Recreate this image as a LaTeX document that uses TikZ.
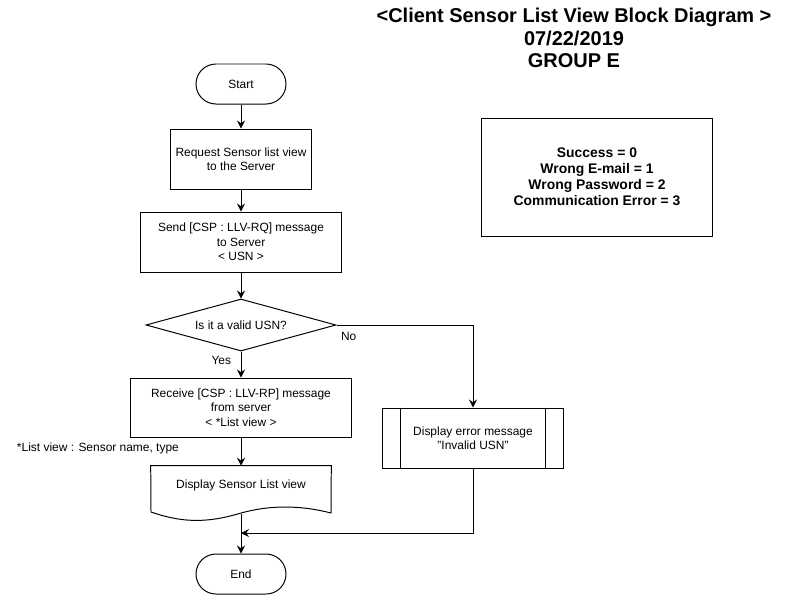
\documentclass[tikz,border=0pt]{standalone}
\usepackage{fontspec}
\setmainfont{Liberation Sans}
\usetikzlibrary{arrows.meta,shapes.geometric}

\tikzset{
  line/.style={line width=0.7pt},
  txt/.style={font=\fontsize{8.5}{10.3}\selectfont, align=center},
  box/.style={draw, line, txt, minimum height=1.5cm, inner sep=2pt},
  term/.style={draw, line, txt, rounded corners=0.5cm, minimum width=2.25cm, minimum height=1cm},
  decision/.style={draw, line, txt, diamond, aspect=3.65, minimum width=4.75cm, minimum height=1.3cm, inner sep=0pt},
  arr/.style={line, -{Stealth[length=2mm,width=2mm,inset=0.7mm]}}
}

\begin{document}
\begin{tikzpicture}[x=0.025cm,y=-0.025cm]
\useasboundingbox (0,0) rectangle (793,595);

% heading and legend
\node[font=\fontsize{14.2}{16}\selectfont\bfseries, align=center] (title) at (574,38)
  {<Client Sensor List View Block Diagram >\\07/22/2019\\GROUP E};
\node[draw, line, minimum width=5.75cm, minimum height=2.95cm, align=center,
  font=\fontsize{9.9}{11.4}\selectfont\bfseries] (codes) at (597,177)
  {Success = 0\\Wrong E-mail = 1\\Wrong Password = 2\\Communication Error = 3};

% main flow
\node[term] (start) at (241,84) {Start};
\node[box, minimum width=3.5cm] (req) at (241,159) {Request Sensor list view\\to the Server};
\node[box, minimum width=5cm] (send) at (241,242) {Send [CSP : LLV-RQ] message\\to Server\\< USN >};
\node[decision] (valid) at (241,325) {Is it a valid USN?};
\node[box, minimum width=5.5cm, minimum height=1.475cm] (recv) at (241,407.5) {Receive [CSP : LLV-RP] message\\from server\\< *List view >};
\node[txt, anchor=west] (note) at (12,448) {*List view : Sensor name, type};
\node[txt, minimum width=4.5cm, minimum height=0.95cm] (disp) at (241,485) {Display Sensor List view};
\draw[line] (disp.north west) -- (disp.north east) -- (331,513)
  .. controls (300,505) and (270,505) .. (241,513)
  .. controls (205,524) and (180,522) .. (151,512) -- cycle;
\coordinate (dispb) at (241,514);
\node[term] (end) at (241,574) {End};

% error branch
\node[box, minimum width=4.5cm] (err) at (473,438) {Display error message\\{\char34}Invalid USN{\char34}};
\draw[line] ([xshift=0.45cm]err.north west) -- ([xshift=0.45cm]err.south west);
\draw[line] ([xshift=-0.45cm]err.north east) -- ([xshift=-0.45cm]err.south east);
\coordinate (join) at (241,533);

\draw[arr] (start) -- (req);
\draw[arr] (req) -- (send);
\draw[arr] (send) -- (valid);
\draw[arr] (valid) -- node[txt, left, pos=0.35, xshift=-0.12cm] {Yes} (recv);
\draw[arr] (valid.east) -- node[txt, anchor=north west, pos=0, inner sep=0pt, xshift=0.1cm, yshift=-0.17cm] {No} (473,325) -- (err.north);
\draw[arr] (recv) -- (disp);
\draw[arr] (dispb) -- (end);
\draw[arr] (err.south) |- (join);
\end{tikzpicture}
\end{document}
